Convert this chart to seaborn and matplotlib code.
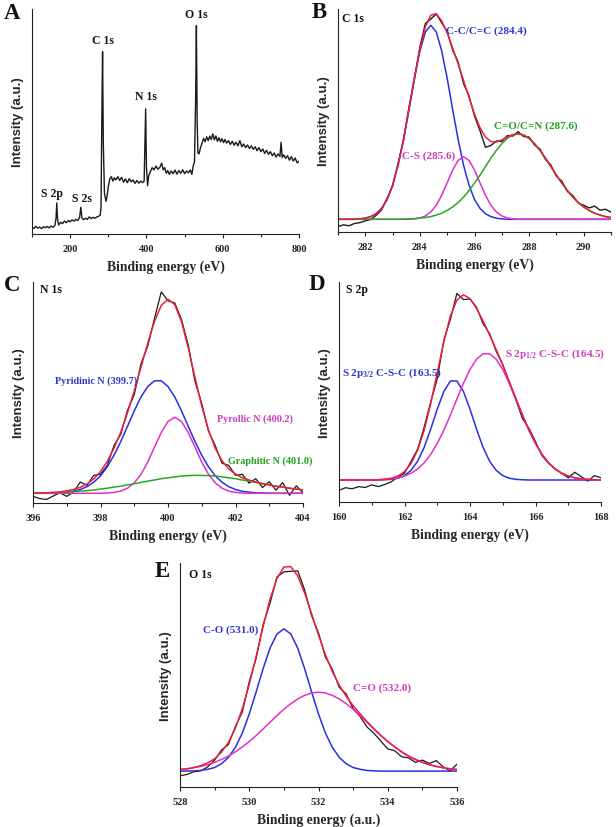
import numpy as np
import matplotlib
matplotlib.use('Agg')
import matplotlib.pyplot as plt
import seaborn as sns
from matplotlib.ticker import MultipleLocator

# ---------------- Panel A: survey spectrum ----------------
A_energy = [100,105,110,115,120,125,130,135,140,145,
            150,155,160,163,165,167,170,175,180,185,
            190,195,200,205,210,215,220,225,228,231,
            235,240,245,250,255,260,265,270,275,279,
            281,283,285,287,290,294,297,300,304,308,
            312,316,320,325,330,335,340,345,350,355,
            360,365,370,375,380,385,390,394,396,398,
            400,403,406,410,415,420,425,430,435,440,
            444,448,452,456,460,465,470,475,480,485,
            490,495,500,505,510,515,519,523,526,529,
            531,533,535,538,542,546,550,554,558,562,
            566,570,574,578,582,586,590,594,598,602,
            606,610,615,620,625,630,635,640,645,650,
            655,660,665,670,675,680,685,690,695,700,
            705,710,715,720,725,730,735,740,745,750,
            753,756,760,765,770,775,780,785,790,795,800]
A_intensity = [3.0,2.5,3.4,2.6,3.1,2.4,3.2,2.8,3.3,2.7,
               3.5,3.0,3.8,7.0,13.8,6.5,4.0,5.2,4.6,5.8,
               5.0,6.0,5.4,6.3,5.7,6.5,6.0,7.5,11.9,7.0,
               6.4,7.0,6.5,7.6,6.8,7.4,7.0,7.6,7.9,8.5,
               12,50,81,40,18,14.5,17,21,24.5,25.5,
               23.5,25.0,24.0,25.5,23.8,25.2,23.0,24.5,22.8,24.6,
               23.2,24.0,22.5,23.8,22.6,23.5,22.8,23.5,40,55.6,
               30,21.5,26,27.5,29.5,28.5,30.2,28.8,29.6,31.5,
               28.5,29.5,27.0,28.2,26.5,28.0,26.8,28.4,26.6,28.2,
               27.0,28.6,26.8,28.0,27.2,28.5,26.5,30.5,32,60,
               92.6,50,36,35.6,38.5,40.5,42.5,41.0,43.2,41.5,
               43.5,42.0,44.5,41.8,43.6,41.2,42.8,41.0,42.4,40.6,
               42.0,40.4,41.5,39.8,41.2,39.5,40.8,39.2,41.5,38.8,
               40.0,38.4,39.6,38.0,39.2,37.6,38.8,37.0,38.4,36.6,
               37.8,35.8,37.2,35.4,36.6,34.8,36.0,34.2,35.6,34.5,
               40.7,34.0,35.2,33.6,34.8,32.8,34.4,32.4,33.8,31.6,32.4]
A_peak_labels = ['S 2p', 'S 2s', 'C 1s', 'N 1s', 'O 1s']
A_peak_pos = [153, 231, 285, 400, 531]
A_peak_top = [15.6, 13.3, 83.5, 58.5, 95.3]

# ---------------- Panel B: C 1s ----------------
B_energy = np.linspace(281.0, 291.0, 51)
B_raw = [2.5,3.2,2.8,3.8,4.2,5.0,5.6,7.5,10.0,15.2,
         20.5,30.8,41.0,56.0,68.5,83.0,93.5,95.5,97.8,93.8,
         89.9,81.6,76.2,66.5,61.0,52.0,45.5,38.0,38.8,40.8,
         40.6,43.2,43.0,45.0,42.8,42.6,39.0,37.2,32.5,30.0,
         25.0,22.8,18.2,16.4,13.0,12.0,10.8,11.6,9.8,10.2,8.9]
B_fit = [5.7,5.7,5.7,5.7,5.9,6.2,6.9,8.2,10.6,14.6,
         21.0,29.9,41.6,55.1,69.4,82.2,92.0,97.2,97.9,94.6,
         89.3,82.5,75.4,67.9,60.3,52.9,46.8,42.6,40.6,40.4,
         41.3,42.6,43.7,44.0,43.5,42.0,39.6,36.6,33.1,29.3,
         25.5,21.9,18.6,15.7,13.2,11.2,9.7,8.4,7.6,6.9,6.5]
B_cc = [5.7,5.7,5.7,5.7,5.9,6.2,6.9,8.2,10.6,14.6,
        21.0,29.9,41.5,54.9,68.9,81.1,89.7,92.7,89.7,81.1,
        68.9,54.9,41.5,29.9,21.0,14.6,10.6,8.2,6.9,6.2,
        5.9,5.7,5.7,5.7,5.7,5.7,5.7,5.7,5.7,5.7,
        5.7,5.7,5.7,5.7,5.7,5.7,5.7,5.7,5.7,5.7,5.7]
B_cs = [5.7,5.7,5.7,5.7,5.7,5.7,5.7,5.7,5.7,5.7,
        5.7,5.7,5.7,5.7,5.9,6.3,7.2,9.0,12.0,16.5,
        22.1,27.8,32.1,33.7,32.1,27.8,22.1,16.5,12.0,9.0,
        7.2,6.3,5.9,5.7,5.7,5.7,5.7,5.7,5.7,5.7,
        5.7,5.7,5.7,5.7,5.7,5.7,5.7,5.7,5.7,5.7,5.7]
B_co = [5.7,5.7,5.7,5.7,5.7,5.7,5.7,5.7,5.7,5.7,
        5.7,5.7,5.8,5.9,6.0,6.2,6.5,6.9,7.6,8.4,
        9.7,11.2,13.2,15.7,18.6,21.9,25.5,29.3,33.1,36.6,
        39.6,42.0,43.5,44.0,43.5,42.0,39.6,36.6,33.1,29.3,
        25.5,21.9,18.6,15.7,13.2,11.2,9.7,8.4,7.6,6.9,6.5]

# ---------------- Panel C: N 1s ----------------
C_energy = np.linspace(396.0, 404.0, 41)
C_raw = [3.0,2.0,1.6,3.2,4.6,3.0,5.0,9.5,8.0,12.5,
         13.0,17.0,26.0,31.0,42.0,49.0,63.0,71.0,83.5,95.5,
         91.5,90.5,83.0,71.5,55.0,45.0,32.5,26.0,18.0,17.0,
         12.5,13.0,9.0,11.0,7.0,9.6,5.8,9.2,3.5,7.8,4.6]
C_fit = [4.5,4.6,4.6,4.8,5.0,5.5,6.1,7.1,8.6,10.9,
         14.2,18.8,24.8,32.0,40.8,50.7,61.5,72.3,82.2,89.4,
         92.2,89.8,82.0,70.2,56.8,43.8,33.0,24.8,19.1,15.4,
         13.1,11.4,10.4,9.5,8.8,8.2,7.6,7.2,6.7,6.3,5.9]
C_pyridinic = [4.4,4.4,4.4,4.5,4.6,4.9,5.3,6.1,7.4,9.4,
               12.3,16.4,21.6,27.8,34.7,41.7,48.0,52.7,55.3,55.3,
               52.7,48.0,41.7,34.7,27.8,21.6,16.4,12.3,9.4,7.4,
               6.1,5.3,4.9,4.6,4.5,4.4,4.4,4.4,4.4,4.4,4.4]
C_pyrollic = [4.4,4.4,4.4,4.4,4.4,4.4,4.4,4.4,4.4,4.4,
              4.4,4.5,4.8,5.4,6.7,9.1,13.0,18.5,25.3,31.9,
              36.9,38.8,36.9,31.9,25.3,18.5,13.0,9.1,6.7,5.4,
              4.8,4.5,4.4,4.4,4.4,4.4,4.4,4.4,4.4,4.4,4.4]
C_graphitic = [4.5,4.6,4.6,4.7,4.8,5.0,5.2,5.4,5.6,5.9,
               6.3,6.7,7.2,7.6,8.2,8.7,9.3,9.9,10.4,11.0,
               11.4,11.8,12.2,12.4,12.5,12.5,12.4,12.2,11.8,11.4,
               11.0,10.4,9.9,9.3,8.7,8.2,7.6,7.2,6.7,6.3,5.9]

# ---------------- Panel D: S 2p ----------------
D_energy = np.linspace(160.0, 168.0, 41)
D_raw = [5.3,6.5,6.0,7.0,6.6,7.8,7.0,8.0,9.2,11.5,
         13.0,18.5,24.0,34.0,45.5,56.0,73.5,83.0,94.8,92.0,
         92.3,88.5,81.0,76.5,68.5,62.5,54.0,46.5,38.0,33.5,
         27.5,21.0,17.5,15.0,13.0,11.0,13.5,11.5,9.5,12.0,11.0]
D_fit = [10.0,10.0,10.0,10.0,10.0,10.0,10.1,10.4,10.8,11.8,
         13.8,17.5,23.5,32.6,44.7,58.8,72.8,84.5,91.8,94.2,
         92.4,88.0,82.2,75.9,69.3,62.2,54.8,47.1,39.6,32.6,
         26.6,21.6,17.8,15.0,13.1,11.8,11.0,10.5,10.3,10.1,10.0]
D_p32 = [10.0,10.0,10.0,10.0,10.0,10.0,10.0,10.1,10.3,10.8,
         12.0,14.4,18.5,24.8,33.1,42.2,50.2,55.0,55.0,50.2,
         42.2,33.1,24.8,18.5,14.4,12.0,10.8,10.3,10.1,10.0,
         10.0,10.0,10.0,10.0,10.0,10.0,10.0,10.0,10.0,10.0,10.0]
D_p12 = [10.0,10.0,10.0,10.0,10.0,10.0,10.1,10.3,10.5,11.0,
         11.8,13.1,15.0,17.8,21.6,26.6,32.6,39.5,46.8,54.0,
         60.2,64.9,67.4,67.4,64.9,60.2,54.0,46.8,39.5,32.6,
         26.6,21.6,17.8,15.0,13.1,11.8,11.0,10.5,10.3,10.1,10.0]

# ---------------- Panel E: O 1s ----------------
E_energy = np.linspace(528.0, 536.0, 41)
E_raw = [5.0,5.6,6.8,7.2,9.0,12.0,16.5,19.0,27.0,33.5,
         47.0,57.5,72.5,82.0,93.8,96.0,96.3,96.5,88.0,76.5,
         68.8,58.0,52.5,44.5,41.5,35.0,31.5,26.8,24.0,20.5,
         17.0,16.2,13.5,13.0,11.0,12.0,10.5,11.8,9.0,7.2,10.2]
E_fit = [7.8,8.1,8.7,9.5,10.8,12.6,15.6,19.9,26.3,34.9,
         45.8,58.4,71.6,83.8,93.1,98.2,98.4,94.2,86.6,77.4,
         67.8,59.0,51.5,45.4,40.5,36.3,32.7,29.2,26.0,23.0,
         20.3,17.9,15.7,13.8,12.3,11.0,10.0,9.2,8.6,8.1,7.8]
E_co = [7.1,7.1,7.2,7.4,7.9,8.7,10.4,13.2,17.7,24.1,
        32.6,42.5,52.8,62.0,68.3,70.6,68.3,62.0,52.8,42.5,
        32.6,24.1,17.7,13.2,10.4,8.7,7.9,7.4,7.2,7.1,
        7.1,7.1,7.1,7.1,7.1,7.1,7.1,7.1,7.1,7.1,7.1]
E_c_o = [7.8,8.1,8.6,9.2,10.0,11.0,12.3,13.8,15.7,17.9,
         20.3,23.0,25.9,28.9,31.9,34.7,37.2,39.3,40.9,42.0,
         42.3,42.0,40.9,39.3,37.2,34.7,31.9,28.9,25.9,23.0,
         20.3,17.9,15.7,13.8,12.3,11.0,10.0,9.2,8.6,8.1,7.8]

# ---------------- style ----------------
sns.set_theme(style='ticks')
plt.rcParams['font.family'] = ['Liberation Serif', 'DejaVu Serif']
plt.rcParams['font.weight'] = 'bold'
plt.rcParams['mathtext.fontset'] = 'custom'
plt.rcParams['mathtext.rm'] = 'Liberation Serif:bold'
plt.rcParams['mathtext.it'] = 'Liberation Serif:bold'
plt.rcParams['mathtext.bf'] = 'Liberation Serif:bold'
plt.rcParams['mathtext.default'] = 'rm'

BLACK = '#1a1a1a'
BLUE = '#2830e0'
MAG = '#e030c8'
GREEN = '#26a626'
RED = '#ee1e3c'
BLUE_T = '#3038d0'
MAG_T = '#d03cc0'
GREEN_T = '#20a020'

W, H = 616, 828
fig = plt.figure(figsize=(W / 100, H / 100), dpi=100)
fig.patch.set_facecolor('white')


def make_ax(l, t, r, b):
    return fig.add_axes([l / W, 1 - b / H, (r - l) / W, (b - t) / H])


def style(ax, xlim, major, minor, xlabel):
    ax.set_xlim(*xlim)
    ax.set_ylim(0, 100)
    ax.xaxis.set_major_locator(MultipleLocator(major))
    ax.xaxis.set_minor_locator(MultipleLocator(minor))
    ax.set_yticks([])
    for s in ['top', 'right']:
        ax.spines[s].set_visible(False)
    for s in ['left', 'bottom']:
        ax.spines[s].set_color('#222222')
        ax.spines[s].set_linewidth(0.8)
    ax.tick_params(axis='x', which='major', direction='out', length=3,
                   width=0.8, labelsize=7.5, pad=4, color='#222222')
    ax.tick_params(axis='x', which='minor', direction='out', length=2,
                   width=0.8, color='#222222')
    ax.set_xlabel(xlabel, fontsize=9.8, fontweight='bold', labelpad=5)
    ax.set_ylabel('Intensity (a.u.)', fontsize=9.5, fontweight='bold', labelpad=6,
                  family=['Liberation Sans Narrow', 'Liberation Sans', 'DejaVu Sans'])
    ax.set_facecolor('white')


def line(ax, x, y, color, lw=1.0):
    sns.lineplot(x=list(x), y=list(y), ax=ax, color=color, linewidth=lw,
                 estimator=None, sort=False)


def corner(ax, s, fx, fy):
    ax.text(fx, fy, s, transform=ax.transAxes, fontsize=8.5,
            fontweight='bold', color='#111111', ha='left', va='center')


# A
axA = make_ax(32, 10, 299, 235)
line(axA, A_energy, A_intensity, BLACK, 1.0)
for lab, px, py in zip(A_peak_labels, A_peak_pos, A_peak_top):
    axA.text(px, py, lab, fontsize=8.5, fontweight='bold', ha='center',
             va='bottom', color='#111111')
style(axA, (100, 800), 200, 100, 'Binding energy (eV)')

# B
axB = make_ax(338, 10, 611, 233)
line(axB, B_energy, B_raw, BLACK, 1.0)
line(axB, B_energy, B_cc, BLUE, 1.1)
line(axB, B_energy, B_cs, MAG, 1.1)
line(axB, B_energy, B_co, GREEN, 1.1)
line(axB, B_energy, B_fit, RED, 1.1)
style(axB, (281, 291), 2, 1, 'Binding energy (eV)')
corner(axB, 'C 1s', 0.015, 0.96)
axB.text(284.95, 90.7, 'C-C/C=C (284.4)', color=BLUE_T, fontsize=8, va='center', ha='left')
axB.text(283.33, 34.3, 'C-S (285.6)', color=MAG_T, fontsize=8, va='center', ha='left')
axB.text(286.7, 47.8, 'C=O/C=N (287.6)', color=GREEN_T, fontsize=8, va='center', ha='left')

# C
axC = make_ax(33, 283, 303, 504)
line(axC, C_energy, C_raw, BLACK, 0.9)
line(axC, C_energy, C_pyridinic, BLUE, 1.1)
line(axC, C_energy, C_pyrollic, MAG, 1.1)
line(axC, C_energy, C_graphitic, GREEN, 1.1)
line(axC, C_energy, C_fit, RED, 1.1)
style(axC, (396, 404), 2, 1, 'Binding energy (eV)')
corner(axC, 'N 1s', 0.026, 0.968)
axC.text(396.64, 55.6, 'Pyridinic N (399.7)', color=BLUE_T, fontsize=7.3, va='center', ha='left')
axC.text(401.45, 38.3, 'Pyrollic N (400.2)', color=MAG_T, fontsize=7.3, va='center', ha='left')
axC.text(401.79, 19.5, 'Graphitic N (401.0)', color=GREEN_T, fontsize=7.3, va='center', ha='left')

# D
axD = make_ax(339, 283, 601, 503)
line(axD, D_energy, D_raw, BLACK, 0.9)
line(axD, D_energy, D_p32, BLUE, 1.1)
line(axD, D_energy, D_p12, MAG, 1.1)
line(axD, D_energy, D_fit, RED, 1.1)
style(axD, (160, 168), 2, 1, 'Binding energy (eV)')
corner(axD, 'S 2p', 0.027, 0.968)
axD.text(160.1, 59.1, r'S 2p$_{3/2}$ C-S-C (163.5)', color=BLUE_T, fontsize=8, va='center', ha='left')
axD.text(165.08, 67.4, r'S 2p$_{1/2}$ C-S-C (164.5)', color=MAG_T, fontsize=8, va='center', ha='left')

# E
axE = make_ax(180, 564, 457, 788)
line(axE, E_energy, E_raw, BLACK, 0.9)
line(axE, E_energy, E_co, BLUE, 1.1)
line(axE, E_energy, E_c_o, MAG, 1.1)
line(axE, E_energy, E_fit, RED, 1.1)
style(axE, (528, 536), 2, 1, 'Binding energy (a.u.)')
corner(axE, 'O 1s', 0.032, 0.949)
axE.text(528.67, 70.6, 'C-O (531.0)', color=BLUE_T, fontsize=8, va='center', ha='left')
axE.text(533.0, 44.6, 'C=O (532.0)', color=MAG_T, fontsize=8, va='center', ha='left')

# panel letters
for letter, px, py in [('A', 4, 3), ('B', 312, 2), ('C', 4, 275), ('D', 309, 274), ('E', 155, 561)]:
    fig.text(px / W, 1 - py / H, letter, fontsize=16.5, fontweight='bold',
             ha='left', va='top', color='#111111')

fig.savefig('out.png', dpi=100, facecolor='white')
